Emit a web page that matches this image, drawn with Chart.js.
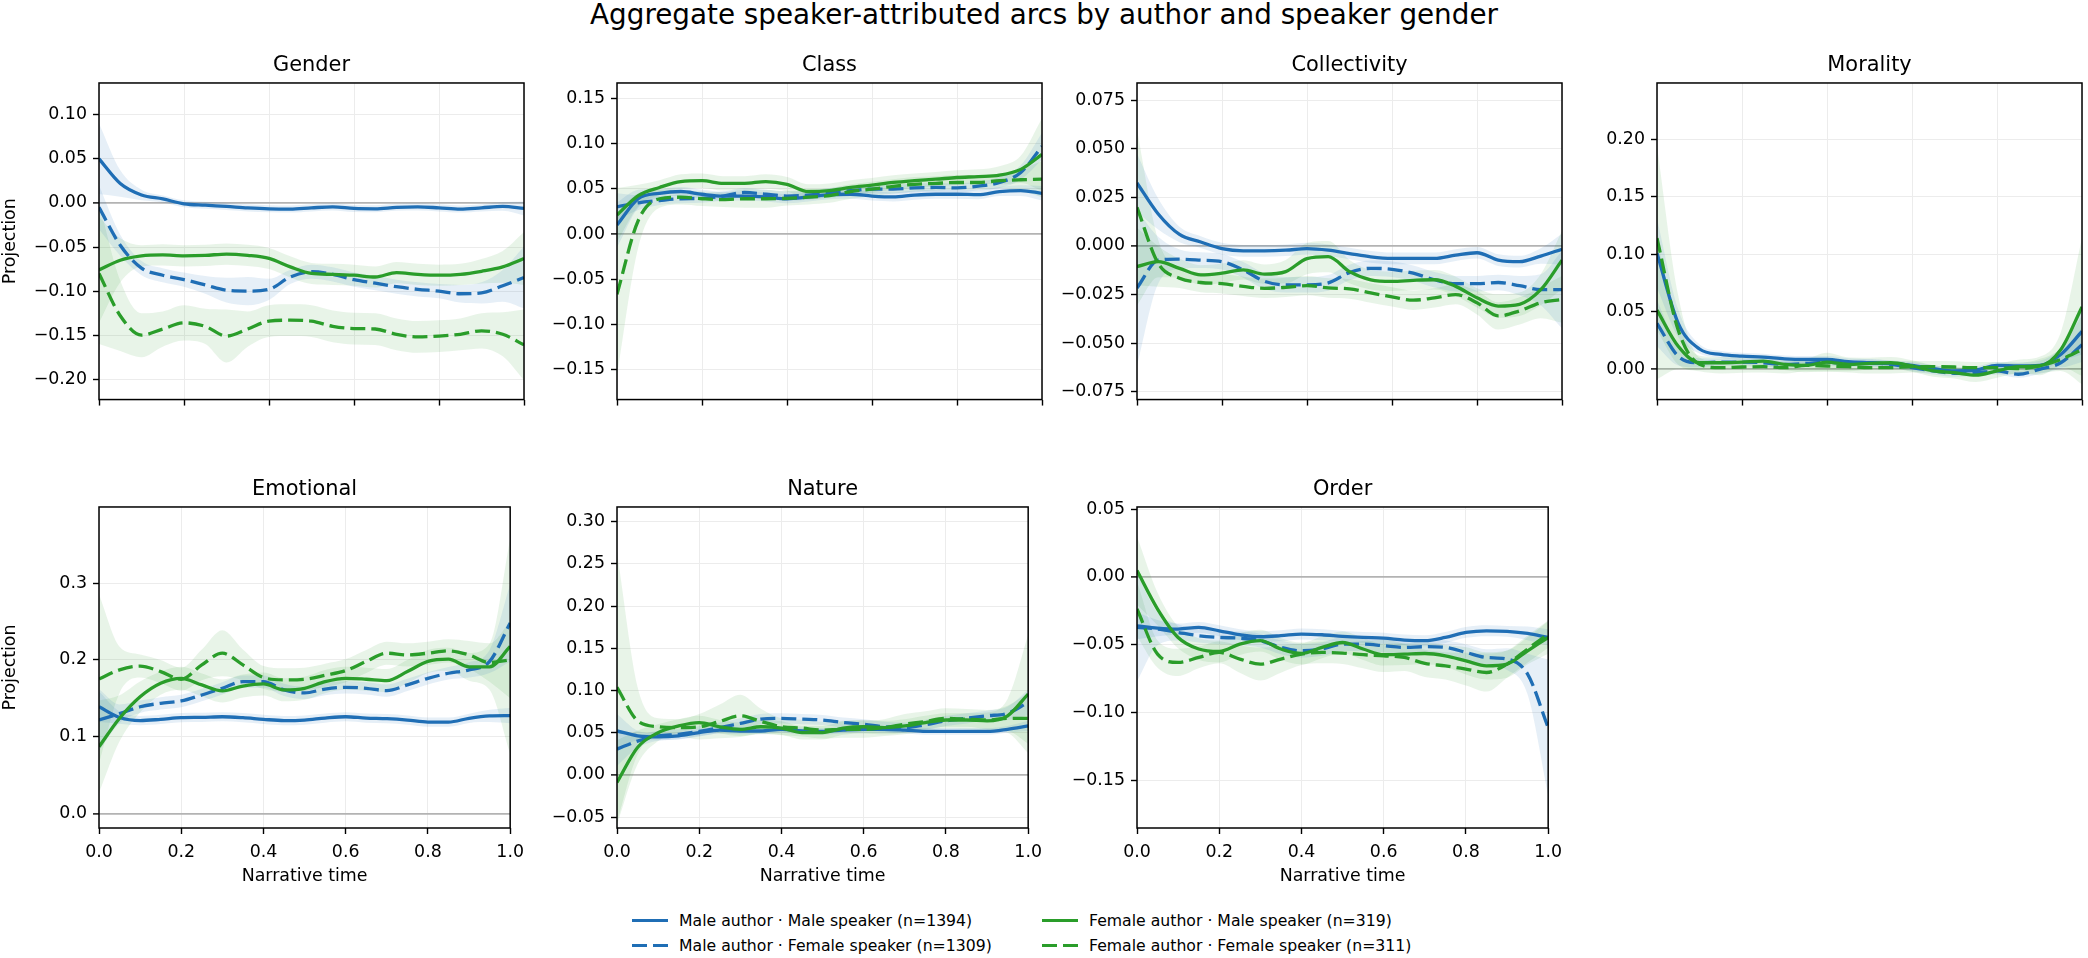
<!DOCTYPE html>
<html>
<head>
<meta charset="utf-8" />
<title>Aggregate speaker-attributed arcs</title>
<script src="https://cdn.jsdelivr.net/npm/chart.js@4.4.1/dist/chart.umd.min.js"></script>
<style>
    body {
        margin: 0;
        width: 2088px;
        height: 958px;
        background: #fff;
        position: relative;
        overflow: hidden;
        font-family: "DejaVu Sans", sans-serif;
        color: #000;
    }
    #suptitle {
        position: absolute;
        left: 0;
        top: 0;
        width: 2088px;
        text-align: center;
        font-size: 27.8px;
        line-height: 30px;
    }
    .leg {
        position: absolute;
        font-size: 15.7px;
        line-height: 20px;
        white-space: nowrap;
    }
    .sw {
        position: absolute;
        width: 36px;
        height: 3px;
    }
</style>
</head>
<body>
<div id="suptitle">Aggregate speaker-attributed arcs by author and speaker gender</div>

<div class="sw" style="left:632px;top:919.2px;background:#1f6eb5"></div>
<div class="leg" style="left:679px;top:911.3px">Male author · Male speaker (n=1394)</div>
<div class="sw" style="left:632px;top:943.5px;background:repeating-linear-gradient(to right,#1f6eb5 0 14.7px,transparent 14.7px 21.1px)"></div>
<div class="leg" style="left:679px;top:935.6px">Male author · Female speaker (n=1309)</div>
<div class="sw" style="left:1042px;top:919.2px;background:#2a9d2a"></div>
<div class="leg" style="left:1089px;top:911.3px">Female author · Male speaker (n=319)</div>
<div class="sw" style="left:1042px;top:943.5px;background:repeating-linear-gradient(to right,#2a9d2a 0 14.7px,transparent 14.7px 21.1px)"></div>
<div class="leg" style="left:1089px;top:935.6px">Female author · Female speaker (n=311)</div>

<script>
// narrative time grid shared by every series
const narrativeTime = [0, 0.05, 0.1, 0.15, 0.2, 0.25, 0.3, 0.35, 0.4, 0.45, 0.5, 0.55, 0.6, 0.65, 0.7, 0.75, 0.8, 0.85, 0.9, 0.95, 1.0];
const timeTicks = [0, 0.2, 0.4, 0.6, 0.8, 1.0];

// MM = male author/male speaker, MF = male author/female speaker,
// FM = female author/male speaker, FF = female author/female speaker
const genderMM = [0.050, 0.022, 0.009, 0.0045, -0.001, -0.0026, -0.004, -0.0056, -0.0067, -0.007, -0.0056, -0.0045, -0.0063, -0.0067, -0.005, -0.0045, -0.0056, -0.007, -0.0056, -0.004, -0.0063];
const genderMF = [-0.005, -0.048, -0.074, -0.082, -0.087, -0.093, -0.099, -0.100, -0.098, -0.084, -0.078, -0.081, -0.087, -0.091, -0.095, -0.098, -0.100, -0.103, -0.102, -0.094, -0.0845];
const genderFM = [-0.076, -0.065, -0.060, -0.059, -0.060, -0.0595, -0.058, -0.0595, -0.063, -0.0725, -0.080, -0.081, -0.082, -0.084, -0.079, -0.081, -0.082, -0.081, -0.0775, -0.0725, -0.063];
const genderFF = [-0.080, -0.128, -0.150, -0.143, -0.136, -0.140, -0.151, -0.143, -0.134, -0.133, -0.134, -0.140, -0.1425, -0.143, -0.149, -0.152, -0.151, -0.149, -0.145, -0.149, -0.161];
const genderMMci = [0.040, 0.015, 0.006, 0.004, 0.004, 0.004, 0.004, 0.004, 0.004, 0.004, 0.004, 0.004, 0.004, 0.004, 0.004, 0.004, 0.004, 0.004, 0.004, 0.005, 0.008];
const genderMFci = [0.025, 0.012, 0.008, 0.008, 0.008, 0.010, 0.014, 0.016, 0.012, 0.008, 0.008, 0.008, 0.008, 0.008, 0.008, 0.008, 0.008, 0.010, 0.012, 0.018, 0.035];
const genderFMci = [0.060, 0.025, 0.012, 0.012, 0.012, 0.012, 0.012, 0.012, 0.012, 0.012, 0.012, 0.012, 0.012, 0.012, 0.012, 0.012, 0.012, 0.012, 0.014, 0.018, 0.030];
const genderFFci = [0.080, 0.040, 0.025, 0.020, 0.020, 0.020, 0.030, 0.020, 0.018, 0.018, 0.018, 0.018, 0.018, 0.018, 0.018, 0.018, 0.018, 0.018, 0.020, 0.025, 0.040];
const genderTicks = [-0.20, -0.15, -0.10, -0.05, 0, 0.05, 0.10];

const classMM = [0.010, 0.039, 0.045, 0.047, 0.044, 0.042, 0.042, 0.041, 0.039, 0.041, 0.0435, 0.044, 0.042, 0.041, 0.043, 0.044, 0.044, 0.0435, 0.047, 0.048, 0.045];
const classMF = [0.030, 0.0345, 0.037, 0.039, 0.0395, 0.042, 0.046, 0.044, 0.042, 0.043, 0.046, 0.048, 0.0497, 0.0497, 0.051, 0.0515, 0.051, 0.053, 0.057, 0.068, 0.097];
const classFM = [0.021, 0.0425, 0.0515, 0.058, 0.059, 0.056, 0.056, 0.058, 0.055, 0.047, 0.048, 0.0515, 0.054, 0.057, 0.059, 0.0606, 0.0625, 0.0635, 0.065, 0.0715, 0.088];
const classFF = [-0.0665, 0.015, 0.039, 0.0407, 0.039, 0.038, 0.039, 0.039, 0.0395, 0.0407, 0.0425, 0.047, 0.0497, 0.0527, 0.055, 0.056, 0.057, 0.057, 0.059, 0.060, 0.0606];
const classMMci = [0.025, 0.010, 0.005, 0.005, 0.005, 0.005, 0.005, 0.005, 0.005, 0.005, 0.005, 0.005, 0.005, 0.005, 0.005, 0.005, 0.005, 0.005, 0.005, 0.006, 0.008];
const classMFci = [0.015, 0.008, 0.005, 0.005, 0.005, 0.005, 0.005, 0.005, 0.005, 0.005, 0.005, 0.005, 0.005, 0.005, 0.005, 0.005, 0.005, 0.005, 0.006, 0.008, 0.015];
const classFMci = [0.030, 0.012, 0.008, 0.008, 0.008, 0.008, 0.008, 0.008, 0.008, 0.008, 0.008, 0.008, 0.008, 0.008, 0.008, 0.008, 0.008, 0.008, 0.010, 0.015, 0.040];
const classFFci = [0.090, 0.030, 0.010, 0.008, 0.008, 0.008, 0.010, 0.010, 0.008, 0.008, 0.008, 0.008, 0.008, 0.008, 0.008, 0.008, 0.008, 0.008, 0.008, 0.012, 0.020];
const classTicks = [-0.15, -0.10, -0.05, 0, 0.05, 0.10, 0.15];

const collMM = [0.0324, 0.0164, 0.0059, 0.002, -0.0014, -0.0025, -0.0025, -0.0022, -0.0014, -0.0022, -0.0039, -0.0056, -0.0064, -0.0064, -0.0064, -0.0047, -0.0035, -0.0073, -0.0081, -0.0052, -0.0017];
const collMF = [-0.0216, -0.0073, -0.0068, -0.0073, -0.0081, -0.0123, -0.0182, -0.020, -0.020, -0.019, -0.0137, -0.0115, -0.012, -0.014, -0.0174, -0.0194, -0.0194, -0.0188, -0.0204, -0.0225, -0.0225];
const collFM = [-0.0106, -0.0081, -0.0115, -0.0149, -0.014, -0.0123, -0.0145, -0.0132, -0.0065, -0.0055, -0.0132, -0.0174, -0.0182, -0.0177, -0.0174, -0.0208, -0.0267, -0.0309, -0.030, -0.0225, -0.0073];
const collFF = [0.0198, -0.009, -0.0166, -0.0188, -0.0194, -0.0208, -0.0218, -0.0213, -0.0204, -0.0216, -0.0221, -0.0242, -0.0262, -0.0279, -0.0267, -0.025, -0.0292, -0.036, -0.0334, -0.0292, -0.0275];
const collMMci = [0.015, 0.008, 0.004, 0.003, 0.003, 0.003, 0.003, 0.003, 0.003, 0.003, 0.003, 0.003, 0.003, 0.003, 0.003, 0.003, 0.003, 0.003, 0.003, 0.004, 0.008];
const collMFci = [0.040, 0.012, 0.005, 0.004, 0.004, 0.004, 0.004, 0.004, 0.004, 0.004, 0.004, 0.004, 0.004, 0.004, 0.004, 0.004, 0.004, 0.004, 0.005, 0.008, 0.020];
const collFMci = [0.020, 0.008, 0.005, 0.005, 0.005, 0.005, 0.005, 0.006, 0.008, 0.008, 0.006, 0.005, 0.005, 0.005, 0.005, 0.005, 0.005, 0.006, 0.006, 0.008, 0.015];
const collFFci = [0.040, 0.012, 0.005, 0.005, 0.005, 0.005, 0.005, 0.005, 0.005, 0.005, 0.005, 0.005, 0.005, 0.005, 0.005, 0.005, 0.006, 0.007, 0.007, 0.008, 0.012];
const collTicks = [-0.075, -0.050, -0.025, 0, 0.025, 0.050, 0.075];

const moralMM = [0.101, 0.040, 0.0177, 0.0129, 0.0114, 0.0106, 0.0091, 0.0086, 0.0086, 0.0066, 0.0057, 0.0049, 0.0034, 0.0006, -0.0014, -0.0006, 0.0034, 0.0029, 0.0034, 0.0129, 0.0329];
const moralMF = [0.040, 0.0114, 0.0057, 0.0063, 0.0063, 0.0057, 0.0043, 0.0051, 0.0063, 0.0051, 0.0057, 0.0043, 0.0014, -0.0014, -0.0034, -0.0029, -0.0014, -0.0043, 0, 0.0057, 0.0214];
const moralFM = [0.0514, 0.020, 0.0057, 0.0057, 0.0063, 0.0071, 0.0043, 0.0034, 0.0063, 0.0043, 0.0051, 0.0057, 0.0029, -0.0014, -0.0029, -0.0051, -0.0014, 0.0023, 0.0029, 0.0171, 0.0543];
const moralFF = [0.114, 0.034, 0.0043, 0.0014, 0.002, 0.0023, 0.0014, 0.0034, 0.0029, 0.0023, 0.0014, 0.0014, 0.0023, 0.0023, 0.002, 0.0014, 0.0014, 0.0006, 0.0029, 0.0086, 0.0171];
const moralMMci = [0.030, 0.012, 0.004, 0.003, 0.003, 0.003, 0.003, 0.003, 0.003, 0.003, 0.003, 0.003, 0.003, 0.003, 0.003, 0.003, 0.003, 0.003, 0.004, 0.006, 0.020];
const moralMFci = [0.020, 0.008, 0.004, 0.003, 0.003, 0.003, 0.003, 0.003, 0.003, 0.003, 0.003, 0.003, 0.003, 0.003, 0.003, 0.003, 0.003, 0.003, 0.004, 0.005, 0.015];
const moralFMci = [0.060, 0.020, 0.006, 0.005, 0.005, 0.005, 0.005, 0.006, 0.008, 0.006, 0.005, 0.005, 0.005, 0.005, 0.005, 0.006, 0.006, 0.006, 0.008, 0.015, 0.060];
const moralFFci = [0.080, 0.030, 0.006, 0.005, 0.005, 0.005, 0.005, 0.005, 0.005, 0.005, 0.005, 0.005, 0.005, 0.005, 0.005, 0.005, 0.005, 0.005, 0.006, 0.010, 0.030];
const moralTicks = [0, 0.05, 0.10, 0.15, 0.20];

const emoMM = [0.139, 0.125, 0.121, 0.1226, 0.1248, 0.1252, 0.126, 0.1248, 0.1226, 0.121, 0.1217, 0.1243, 0.126, 0.1243, 0.1235, 0.1217, 0.119, 0.119, 0.124, 0.127, 0.1274];
const emoMF = [0.1217, 0.130, 0.139, 0.1435, 0.1465, 0.1543, 0.163, 0.1717, 0.1717, 0.161, 0.157, 0.162, 0.1643, 0.163, 0.160, 0.1674, 0.176, 0.1826, 0.187, 0.198, 0.248];
const emoFM = [0.087, 0.124, 0.152, 0.1696, 0.176, 0.1674, 0.1596, 0.166, 0.1687, 0.161, 0.163, 0.1717, 0.176, 0.1748, 0.173, 0.1848, 0.198, 0.2009, 0.191, 0.191, 0.2174];
const emoFF = [0.175, 0.187, 0.192, 0.1848, 0.1748, 0.1935, 0.2087, 0.1935, 0.177, 0.174, 0.1748, 0.180, 0.186, 0.198, 0.2087, 0.2065, 0.2087, 0.2117, 0.2065, 0.1965, 0.200];
const emoMMci = [0.020, 0.008, 0.006, 0.006, 0.006, 0.006, 0.006, 0.006, 0.006, 0.006, 0.006, 0.006, 0.006, 0.006, 0.006, 0.006, 0.006, 0.006, 0.006, 0.008, 0.010];
const emoMFci = [0.040, 0.012, 0.008, 0.008, 0.008, 0.008, 0.008, 0.008, 0.008, 0.008, 0.008, 0.008, 0.008, 0.008, 0.008, 0.008, 0.008, 0.008, 0.010, 0.015, 0.050];
const emoFMci = [0.060, 0.030, 0.020, 0.015, 0.015, 0.015, 0.015, 0.015, 0.015, 0.015, 0.015, 0.015, 0.015, 0.015, 0.015, 0.015, 0.015, 0.015, 0.018, 0.030, 0.140];
const emoFFci = [0.110, 0.030, 0.015, 0.015, 0.015, 0.020, 0.030, 0.020, 0.015, 0.015, 0.015, 0.015, 0.015, 0.015, 0.015, 0.015, 0.015, 0.015, 0.018, 0.025, 0.050];
const emoTicks = [0, 0.1, 0.2, 0.3];

const natMM = [0.052, 0.0463, 0.045, 0.0463, 0.050, 0.053, 0.052, 0.052, 0.054, 0.052, 0.0515, 0.053, 0.054, 0.054, 0.053, 0.0515, 0.0515, 0.0515, 0.0515, 0.054, 0.058];
const natMF = [0.0305, 0.040, 0.0463, 0.048, 0.0515, 0.056, 0.061, 0.066, 0.067, 0.066, 0.065, 0.062, 0.060, 0.057, 0.056, 0.0594, 0.064, 0.067, 0.070, 0.073, 0.086];
const natFM = [-0.009, 0.0325, 0.050, 0.058, 0.062, 0.057, 0.054, 0.057, 0.0554, 0.050, 0.050, 0.0554, 0.057, 0.056, 0.058, 0.062, 0.065, 0.065, 0.064, 0.070, 0.0958];
const natFF = [0.1037, 0.064, 0.057, 0.056, 0.057, 0.0633, 0.070, 0.0633, 0.057, 0.0554, 0.053, 0.054, 0.054, 0.056, 0.060, 0.0633, 0.067, 0.066, 0.065, 0.067, 0.067];
const natMMci = [0.020, 0.006, 0.004, 0.004, 0.004, 0.004, 0.004, 0.004, 0.004, 0.004, 0.004, 0.004, 0.004, 0.004, 0.004, 0.004, 0.004, 0.004, 0.004, 0.004, 0.006];
const natMFci = [0.020, 0.008, 0.006, 0.006, 0.006, 0.006, 0.006, 0.006, 0.006, 0.006, 0.006, 0.006, 0.006, 0.006, 0.006, 0.006, 0.006, 0.006, 0.006, 0.008, 0.015];
const natFMci = [0.050, 0.020, 0.010, 0.008, 0.008, 0.008, 0.008, 0.008, 0.008, 0.008, 0.008, 0.008, 0.008, 0.008, 0.008, 0.008, 0.008, 0.008, 0.010, 0.020, 0.070];
const natFFci = [0.160, 0.040, 0.010, 0.010, 0.015, 0.020, 0.025, 0.015, 0.010, 0.010, 0.010, 0.010, 0.010, 0.010, 0.012, 0.012, 0.012, 0.012, 0.012, 0.015, 0.030];
const natTicks = [-0.05, 0, 0.05, 0.10, 0.15, 0.20, 0.25, 0.30];

const ordMM = [-0.0359, -0.0376, -0.0383, -0.0371, -0.0396, -0.0425, -0.044, -0.0432, -0.042, -0.0425, -0.0437, -0.0445, -0.045, -0.0464, -0.0469, -0.0445, -0.0408, -0.0396, -0.040, -0.0415, -0.0445];
const ordMF = [-0.037, -0.0383, -0.0408, -0.0432, -0.0445, -0.045, -0.0469, -0.0518, -0.0543, -0.053, -0.0494, -0.0494, -0.0506, -0.0518, -0.0513, -0.0518, -0.0555, -0.0592, -0.0604, -0.0715, -0.1108];
const ordFM = [0.0047, -0.0236, -0.0445, -0.053, -0.0548, -0.0494, -0.0469, -0.053, -0.0563, -0.0518, -0.0482, -0.053, -0.0572, -0.0568, -0.0563, -0.058, -0.0617, -0.0654, -0.0641, -0.0543, -0.0445];
const ordFF = [-0.0236, -0.0568, -0.0629, -0.0592, -0.0555, -0.0604, -0.0641, -0.0604, -0.0568, -0.0555, -0.056, -0.0572, -0.058, -0.0592, -0.0636, -0.0654, -0.0678, -0.0703, -0.0641, -0.053, -0.042];
const ordMMci = [0.010, 0.006, 0.004, 0.004, 0.004, 0.004, 0.004, 0.004, 0.004, 0.004, 0.004, 0.004, 0.004, 0.004, 0.004, 0.004, 0.004, 0.004, 0.004, 0.005, 0.006];
const ordMFci = [0.040, 0.012, 0.006, 0.005, 0.005, 0.005, 0.005, 0.005, 0.005, 0.005, 0.005, 0.005, 0.005, 0.005, 0.005, 0.005, 0.006, 0.006, 0.008, 0.015, 0.050];
const ordFMci = [0.025, 0.012, 0.008, 0.008, 0.008, 0.008, 0.008, 0.008, 0.008, 0.008, 0.008, 0.008, 0.008, 0.008, 0.008, 0.008, 0.010, 0.010, 0.010, 0.010, 0.012];
const ordFFci = [0.020, 0.010, 0.010, 0.008, 0.008, 0.010, 0.012, 0.010, 0.008, 0.008, 0.008, 0.010, 0.012, 0.010, 0.010, 0.010, 0.012, 0.014, 0.010, 0.010, 0.010];
const ordTicks = [-0.15, -0.10, -0.05, 0, 0.05];

// colours
var blue = '#1f6eb5';
var green = '#2a9d2a';
var blueBand = 'rgba(31,110,181,0.11)';
var greenBand = 'rgba(42,157,42,0.11)';

// layout (plot area in page pixels)
var plotW = 425, plotH = 321;
var yAxisW = 105, titleH = 45, padR = 8;

var panels = [
    { title: 'Gender', col: 0, row: 0, left: 99, top: 83, ymin: -0.223, ymax: 0.136, ticks: genderTicks, dec: 2, s: [genderMM, genderMF, genderFM, genderFF], ci: [genderMMci, genderMFci, genderFMci, genderFFci] },
    { title: 'Class', col: 1, row: 0, left: 617, top: 83, ymin: -0.183, ymax: 0.167, ticks: classTicks, dec: 2, s: [classMM, classMF, classFM, classFF], ci: [classMMci, classMFci, classFMci, classFFci] },
    { title: 'Collectivity', col: 2, row: 0, left: 1137, top: 83, ymin: -0.079, ymax: 0.0838, ticks: collTicks, dec: 3, s: [collMM, collMF, collFM, collFF], ci: [collMMci, collMFci, collFMci, collFFci] },
    { title: 'Morality', col: 3, row: 0, left: 1657, top: 83, ymin: -0.0263, ymax: 0.249, ticks: moralTicks, dec: 2, s: [moralMM, moralMF, moralFM, moralFF], ci: [moralMMci, moralMFci, moralFMci, moralFFci] },
    { title: 'Emotional', col: 0, row: 1, left: 99, top: 507, ymin: -0.0188, ymax: 0.399, ticks: emoTicks, dec: 1, s: [emoMM, emoMF, emoFM, emoFF], ci: [emoMMci, emoMFci, emoFMci, emoFFci] },
    { title: 'Nature', col: 1, row: 1, left: 617, top: 507, ymin: -0.063, ymax: 0.3175, ticks: natTicks, dec: 2, s: [natMM, natMF, natFM, natFF], ci: [natMMci, natMFci, natFMci, natFFci] },
    { title: 'Order', col: 2, row: 1, left: 1137, top: 507, ymin: -0.1847, ymax: 0.0515, ticks: ordTicks, dec: 2, s: [ordMM, ordMF, ordFM, ordFF], ci: [ordMMci, ordMFci, ordFMci, ordFFci] }
];

var lineColors = [blue, blue, green, green];
var bandColors = [blueBand, blueBand, greenBand, greenBand];
var dashes = [[], [15, 6], [], [15, 6]];

Chart.defaults.font.family = "'DejaVu Sans', sans-serif";
Chart.defaults.color = '#000';

// full box around the plot area, like matplotlib spines
var frame = {
    id: 'frame',
    afterDatasetsDraw: function (chart) {
        var a = chart.chartArea, ctx = chart.ctx;
        ctx.save();
        ctx.strokeStyle = '#000';
        ctx.lineWidth = 1.5;
        ctx.strokeRect(a.left, a.top, a.right - a.left, a.bottom - a.top);
        ctx.restore();
    }
};

function fmt(v, dec) {
    var s = Math.abs(v).toFixed(dec);
    return (v < -1e-9 ? '\u2212' : '') + s;
}

function makePanel(p) {
    var bottomRow = p.row === 1;
    var xb = bottomRow ? 75 : 12;
    var w = yAxisW + plotW + padR, h = titleH + plotH + xb;
    var canvas = document.createElement('canvas');
    canvas.width = w;
    canvas.height = h;
    canvas.style.cssText = 'position:absolute;left:' + (p.left - yAxisW) + 'px;top:' + (p.top - titleH) + 'px;width:' + w + 'px;height:' + h + 'px';
    document.body.appendChild(canvas);

    var datasets = [];
    for (var k = 0; k < 4; k++) {
        var mean = p.s[k], ci = p.ci[k];
        // confidence band: upper edge, then lower edge filled up to it
        datasets.push({
            data: narrativeTime.map(function (x, i) { return { x: x, y: mean[i] + ci[i] }; }),
            borderWidth: 0, pointRadius: 0, fill: false, order: 10,
            cubicInterpolationMode: 'monotone'
        });
        datasets.push({
            data: narrativeTime.map(function (x, i) { return { x: x, y: mean[i] - ci[i] }; }),
            borderWidth: 0, pointRadius: 0, fill: '-1', backgroundColor: bandColors[k], order: 10,
            cubicInterpolationMode: 'monotone'
        });
    }
    for (var k = 0; k < 4; k++) {
        var mean = p.s[k];
        datasets.push({
            data: narrativeTime.map(function (x, i) { return { x: x, y: mean[i] }; }),
            borderColor: lineColors[k], borderWidth: 3.3, borderDash: dashes[k],
            pointRadius: 0, fill: false, order: 4 - k,
            cubicInterpolationMode: 'monotone'
        });
    }

    new Chart(canvas, {
        type: 'line',
        data: { datasets: datasets },
        options: {
            responsive: false,
            animation: false,
            events: [],
            layout: { padding: { left: 0, right: padR, top: 0, bottom: 0 } },
            plugins: {
                legend: { display: false },
                tooltip: { enabled: false },
                title: {
                    display: true, text: p.title, fullSize: false, color: '#000',
                    font: { size: 20.9, weight: 'normal', lineHeight: 1.2 },
                    padding: { top: 15.4, bottom: 4.5 }
                }
            },
            scales: {
                x: {
                    type: 'linear', min: 0, max: 1,
                    afterBuildTicks: function (s) { s.ticks = timeTicks.map(function (v) { return { value: v }; }); },
                    afterFit: function (s) { s.height = xb; },
                    ticks: {
                        autoSkip: false, maxRotation: 0, padding: 8,
                        font: { size: 17.4 },
                        callback: function (v) { return bottomRow ? v.toFixed(1) : ''; }
                    },
                    grid: { color: '#ececec', lineWidth: 1, tickColor: '#000', tickLength: 6, tickWidth: 1.4 },
                    border: { display: false },
                    title: {
                        display: bottomRow, text: 'Narrative time', color: '#000',
                        font: { size: 17.4 }, padding: { top: 0, bottom: 15.8 }
                    }
                },
                y: {
                    type: 'linear', min: p.ymin, max: p.ymax,
                    afterBuildTicks: function (s) { s.ticks = p.ticks.map(function (v) { return { value: v }; }); },
                    afterFit: function (s) { s.width = yAxisW; },
                    ticks: {
                        autoSkip: false, padding: 6,
                        font: { size: 17.4 },
                        callback: function (v) { return fmt(v, p.dec); }
                    },
                    grid: {
                        color: function (c) { return (c.tick && c.tick.value === 0) ? '#b3b3b3' : '#ececec'; },
                        lineWidth: function (c) { return (c.tick && c.tick.value === 0) ? 1.8 : 1; },
                        tickColor: '#000', tickLength: 6, tickWidth: 1.4
                    },
                    border: { display: false },
                    title: {
                        display: p.col === 0, text: 'Projection', color: '#000',
                        font: { size: 17.4 }, padding: { top: 6.2, bottom: 0 }
                    }
                }
            }
        },
        plugins: [frame]
    });
}

panels.forEach(makePanel);
</script>
</body>
</html>
